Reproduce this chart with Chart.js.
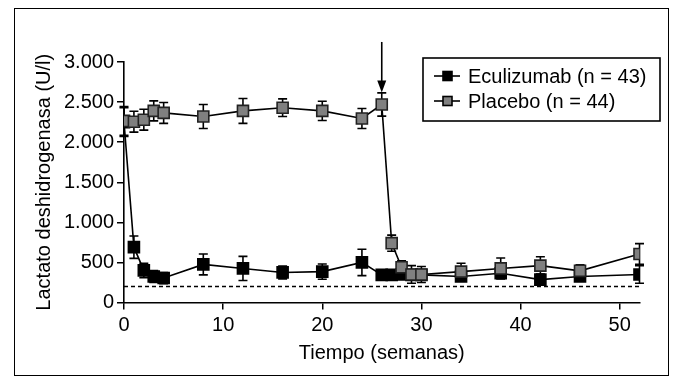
<!DOCTYPE html>
<html>
<head>
<meta charset="utf-8">
<script src="https://cdn.jsdelivr.net/npm/chart.js@4.4.1/dist/chart.umd.min.js"></script>
<style>
    body { margin: 0; background: #fff; }
    #wrap { position: relative; width: 684px; height: 387px; }
    #frame { position: absolute; left: 14px; top: 8px; width: 655px; height: 368px; border: 1.5px solid #000; box-sizing: border-box; pointer-events: none; }
</style>
</head>
<body>
<div id="wrap">
    <canvas id="ldhChart" width="684" height="387"></canvas>
    <div id="frame"></div>
</div>
<script>
var semanas = [0, 1, 2, 3, 4, 8, 12, 16, 20, 24, 26, 27, 28, 29, 30, 34, 38, 42, 46, 52];

var eculizumab = [2250, 690, 400, 325, 305, 475, 425, 375, 385, 500, 345, 345, 350, 345, 345, 325, 365, 285, 325, 350];
var eculizumabErr = [180, 140, 90, 75, 70, 130, 150, 80, 95, 165, 60, 60, 55, 50, 50, 50, 60, 70, 50, 110];

var placebo = [2265, 2255, 2280, 2390, 2365, 2320, 2390, 2430, 2390, 2295, 2470, 740, 440, 350, 350, 385, 425, 460, 395, 605];
var placeboErr = [180, 130, 130, 125, 130, 150, 155, 110, 120, 125, 145, 100, 80, 110, 100, 105, 130, 110, 75, 130];

var limiteNormal = [200, 200];
var limiteSemanas = [0, 52];

var xTicks = [0, 10, 20, 30, 40, 50];
var yTicks = [0, 500, 1000, 1500, 2000, 2500, 3000];

// flecha: cambio de placebo a eculizumab
var flechaSemana = 26;
var flechaDesde = 3250;
var flechaHasta = 2620;

var labelsLeyenda = ['Eculizumab (n = 43)', 'Placebo (n = 44)'];

var FONT = 'Liberation Sans, Arial, Helvetica, sans-serif';

function toPoints(xs, ys) {
    return xs.map(function (x, i) { return { x: x, y: ys[i] }; });
}

var errorBars = {
    id: 'errorBars',
    beforeDatasetsDraw: function (chart) {
        var ctx = chart.ctx;
        var xs = chart.scales.x, ys = chart.scales.y;
        var sets = [[eculizumab, eculizumabErr], [placebo, placeboErr]];
        ctx.save();
        ctx.strokeStyle = '#000';
        ctx.lineWidth = 1.6;
        sets.forEach(function (s) {
            semanas.forEach(function (w, i) {
                var px = xs.getPixelForValue(w);
                var top = ys.getPixelForValue(s[0][i] + s[1][i]);
                var bot = ys.getPixelForValue(s[0][i] - s[1][i]);
                ctx.beginPath();
                ctx.moveTo(px, top); ctx.lineTo(px, bot);
                ctx.moveTo(px - 4.5, top); ctx.lineTo(px + 4.5, top);
                ctx.moveTo(px - 4.5, bot); ctx.lineTo(px + 4.5, bot);
                ctx.stroke();
            });
        });
        ctx.restore();
    },
    afterDraw: function (chart) {
        var ctx = chart.ctx;
        var xs = chart.scales.x, ys = chart.scales.y;
        ctx.save();
        // flecha
        var ax = xs.getPixelForValue(flechaSemana);
        var a0 = ys.getPixelForValue(flechaDesde);
        var a1 = ys.getPixelForValue(flechaHasta);
        ctx.strokeStyle = '#000';
        ctx.fillStyle = '#000';
        ctx.lineWidth = 1.6;
        ctx.beginPath();
        ctx.moveTo(ax, a0); ctx.lineTo(ax, a1 - 10);
        ctx.stroke();
        ctx.beginPath();
        ctx.moveTo(ax - 4.5, a1 - 12);
        ctx.lineTo(ax + 4.5, a1 - 12);
        ctx.lineTo(ax, a1);
        ctx.closePath();
        ctx.fill();

        // leyenda
        ctx.lineWidth = 1.6;
        ctx.strokeRect(423, 58, 237, 63);
        var rows = [76, 101];
        var fills = ['#000', '#808080'];
        ctx.font = '20px ' + FONT;
        ctx.textBaseline = 'middle';
        rows.forEach(function (y, i) {
            ctx.beginPath();
            ctx.moveTo(434, y); ctx.lineTo(460, y);
            ctx.stroke();
            ctx.fillStyle = fills[i];
            ctx.fillRect(443, y - 4.5, 9, 9);
            ctx.strokeRect(443, y - 4.5, 9, 9);
            ctx.fillStyle = '#000';
            ctx.fillText(labelsLeyenda[i], 468, y + 1);
        });
        ctx.restore();
    }
};

var ctx = document.getElementById('ldhChart');
window.myChart = new Chart(ctx, {
    type: 'line',
    data: {
        datasets: [{
            label: 'Placebo (n = 44)',
            data: toPoints(semanas, placebo),
            borderColor: '#000',
            borderWidth: 1.6,
            backgroundColor: '#808080',
            pointStyle: 'rect',
            pointRadius: 7.8,
            pointBorderWidth: 1.6,
            pointBorderColor: '#222',
            pointBackgroundColor: '#808080',
            order: 0
        }, {
            label: 'Eculizumab (n = 43)',
            data: toPoints(semanas, eculizumab),
            borderColor: '#000',
            borderWidth: 1.6,
            pointStyle: 'rect',
            pointRadius: 7.8,
            pointBorderWidth: 1.6,
            pointBorderColor: '#000',
            pointBackgroundColor: '#000',
            order: 1
        }, {
            label: 'limite',
            data: toPoints(limiteSemanas, limiteNormal),
            borderColor: '#000',
            borderWidth: 1.5,
            borderDash: [4, 3],
            pointRadius: 0,
            order: 2
        }]
    },
    options: {
        responsive: false,
        animation: false,
        layout: { padding: { top: 62, right: 44.5, bottom: 0, left: 0 } },
        plugins: {
            legend: { display: false },
            tooltip: { enabled: false }
        },
        scales: {
            x: {
                type: 'linear',
                min: 0,
                max: 52,
                afterFit: function (scale) { scale.height = 84.5; },
                afterBuildTicks: function (scale) {
                    scale.ticks = xTicks.map(function (v) { return { value: v }; });
                },
                ticks: {
                    color: '#000',
                    font: { family: FONT, size: 20 },
                    padding: 4,
                    maxRotation: 0
                },
                grid: { drawOnChartArea: false, drawTicks: true, tickLength: 7, color: '#000', lineWidth: 1.5 },
                border: { display: true, color: '#000', width: 1.6 },
                title: {
                    display: true,
                    text: 'Tiempo (semanas)',
                    color: '#000',
                    font: { family: FONT, size: 20 },
                    padding: { top: 0, bottom: 22 }
                }
            },
            y: {
                min: 0,
                max: 3000,
                afterFit: function (scale) { scale.width = 124; },
                afterBuildTicks: function (scale) {
                    scale.ticks = yTicks.map(function (v) { return { value: v }; });
                },
                ticks: {
                    color: '#000',
                    font: { family: FONT, size: 20 },
                    padding: 3,
                    callback: function (v) {
                        return v >= 1000 ? Math.floor(v / 1000) + '.' + String(v % 1000).padStart(3, '0') : String(v);
                    }
                },
                grid: { drawOnChartArea: false, drawTicks: true, tickLength: 7, color: '#000', lineWidth: 1.5 },
                border: { display: true, color: '#000', width: 1.6 },
                title: {
                    display: true,
                    text: 'Lactato deshidrogenasa (U/l)',
                    color: '#000',
                    font: { family: FONT, size: 20 },
                    padding: { top: 32, bottom: 0 }
                }
            }
        }
    },
    plugins: [errorBars]
});
</script>
</body>
</html>
